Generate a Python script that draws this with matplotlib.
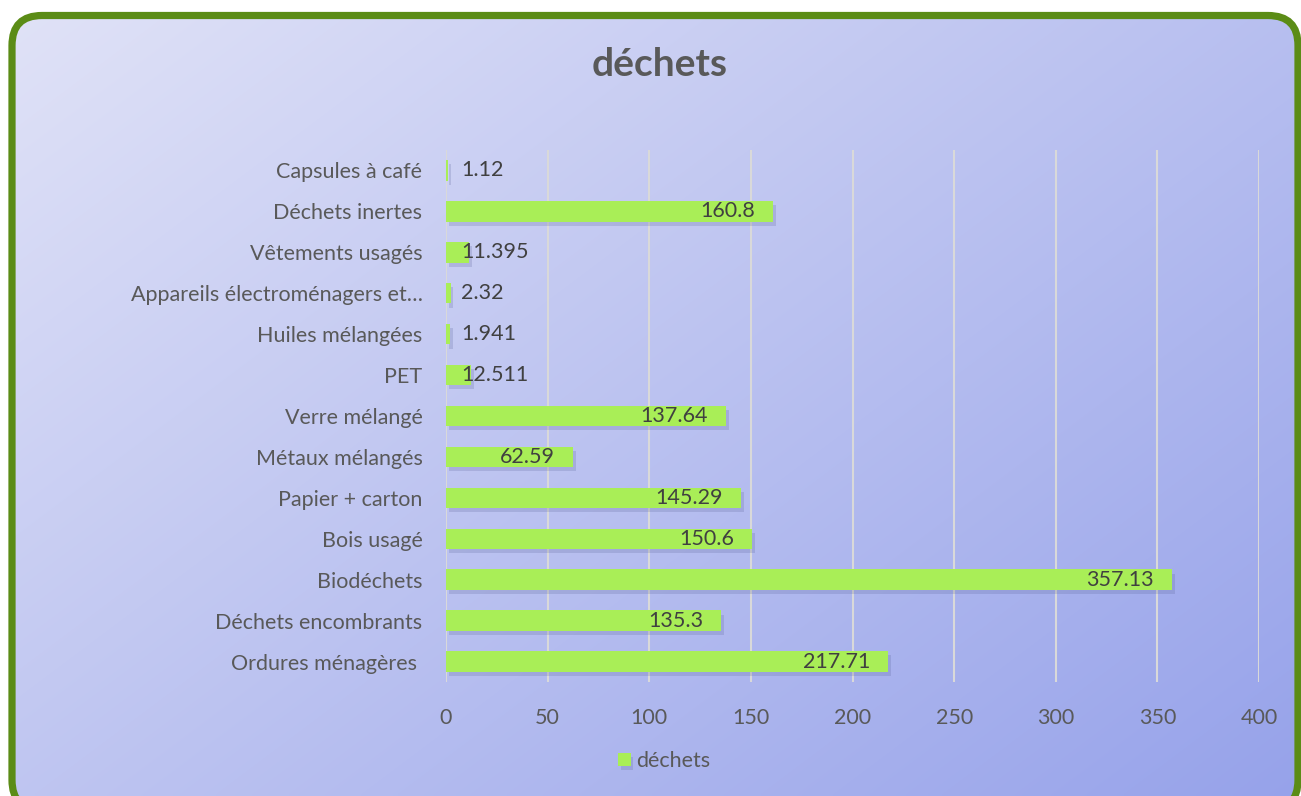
import numpy as np
import matplotlib
matplotlib.use("Agg")
import matplotlib.pyplot as plt
from matplotlib.patches import FancyBboxPatch
from matplotlib.transforms import IdentityTransform
import matplotlib.patheffects as pe

plt.rcParams['font.family'] = ['Lato', 'DejaVu Sans']

# data (bottom to top, as drawn)
categories = ["Ordures ménagères ", "Déchets encombrants", "Biodéchets", "Bois usagé",
              "Papier + carton", "Métaux mélangés", "Verre mélangé", "PET",
              "Huiles mélangées", "Appareils électroménagers et…", "Vêtements usagés",
              "Déchets inertes", "Capsules à café"]
values = [217.71, 135.3, 357.13, 150.6, 145.29, 62.59, 137.64, 12.511,
          1.941, 2.32, 11.395, 160.8, 1.12]
labels = ["217.71", "135.3", "357.13", "150.6", "145.29", "62.59", "137.64", "12.511",
          "1.941", "2.32", "11.395", "160.8", "1.12"]
x_ticks = [0, 50, 100, 150, 200, 250, 300, 350, 400]

W, H = 1301, 796
fig = plt.figure(figsize=(W / 100, H / 100), dpi=100)
fig.patch.set_facecolor('white')

# background: diagonal gradient inside a rounded green frame (frame in pixels)
bg = fig.add_axes([0, 0, 1, 1])
bg.axis('off')
yy, xx = np.mgrid[0:H:4, 0:W:4]
t = (xx / W * 0.55 + yy / H * 0.45)
c0 = np.array([0xe1, 0xe3, 0xf7]) / 255
c1 = np.array([0x96, 0xa2, 0xea]) / 255
img = c0[None, None, :] * (1 - t[..., None]) + c1[None, None, :] * t[..., None]
im = bg.imshow(img, extent=[0, W, H, 0], aspect='auto', zorder=0, interpolation='bilinear')
bg.set_xlim(0, W)
bg.set_ylim(H, 0)

frame = FancyBboxPatch((12, -14), 1286, H - 15.5 + 14, boxstyle="round,pad=0,rounding_size=30",
                       facecolor='none', edgecolor='#5b8c16', linewidth=5.2,
                       transform=IdentityTransform(), zorder=5)
fig.add_artist(frame)
im.set_clip_path(frame)

ax = fig.add_axes([446 / W, 1 - 682 / H, (1259 - 446) / W, (682 - 150) / H])
ax.patch.set_alpha(0)
y = np.arange(len(categories))
bars = ax.barh(y, values, height=0.5, color='#a9ee57', zorder=3)
for b in bars:
    b.set_path_effects([pe.SimplePatchShadow(offset=(2, -3), shadow_rgbFace='#5a6398', alpha=0.22),
                        pe.Normal()])

for yi, v, lab in zip(y, values, labels):
    if v < 30:
        ax.annotate(lab, (0, yi), xytext=(11, 0), textcoords='offset points',
                    ha='left', va='center', fontsize=15.5, color='#404040', zorder=4)
    else:
        ax.annotate(lab, (v, yi), xytext=(-13, 0), textcoords='offset points',
                    ha='right', va='center', fontsize=15.5, color='#404040', zorder=4)

ax.set_xlim(0, 400)
ax.set_ylim(-0.5, len(categories) - 0.5)
ax.set_xticks(x_ticks)
ax.set_yticks(y)
ax.set_yticklabels(categories)
ax.grid(axis='x', color='#d9d9d9', linewidth=1.5, zorder=1)
ax.set_axisbelow(True)
for s in ax.spines.values():
    s.set_visible(False)
ax.tick_params(axis='both', length=0, labelsize=15.5, labelcolor='#595959')
ax.tick_params(axis='x', pad=19)
ax.tick_params(axis='y', pad=17)

fig.text(660 / W, 1 - 64 / H, "déchets", ha='center', va='center', fontsize=28,
         fontweight='bold', color='#595959')

# legend
leg = fig.legend([bars[0]], ["déchets"], loc='center', bbox_to_anchor=(664 / W, 1 - 761 / H),
                 frameon=False, fontsize=15.5, handlelength=0.6, handleheight=0.6,
                 handletextpad=0.25, labelcolor='#595959')

fig.savefig("out.png", dpi=100)
